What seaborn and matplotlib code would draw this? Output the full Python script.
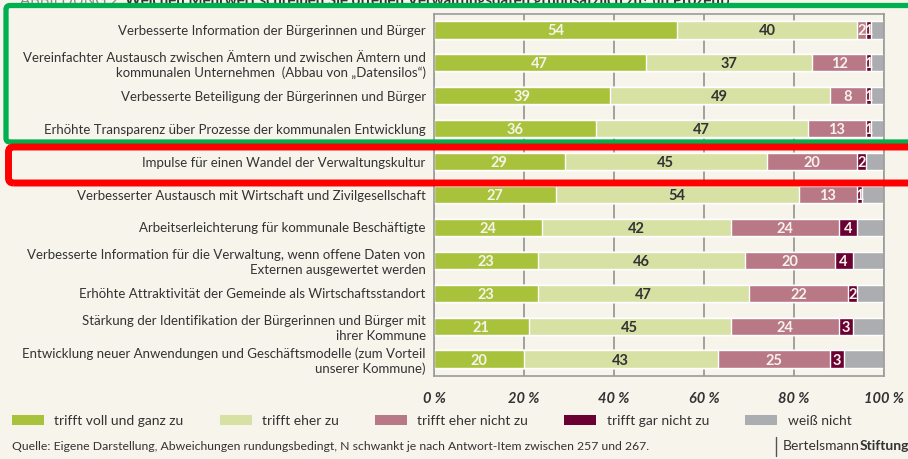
import matplotlib
matplotlib.use('Agg')
import matplotlib.pyplot as plt
import seaborn as sns
import pandas as pd
from matplotlib.patches import Patch, FancyBboxPatch
from matplotlib.lines import Line2D
from matplotlib.transforms import IdentityTransform

# data (in percent)
items = [
    'Verbesserte Information der Bürgerinnen und Bürger',
    'Vereinfachter Austausch zwischen Ämtern und zwischen Ämtern und\nkommunalen Unternehmen  (Abbau von „Datensilos“)',
    'Verbesserte Beteiligung der Bürgerinnen und Bürger',
    'Erhöhte Transparenz über Prozesse der kommunalen Entwicklung',
    'Impulse für einen Wandel der Verwaltungskultur',
    'Verbesserter Austausch mit Wirtschaft und Zivilgesellschaft',
    'Arbeitserleichterung für kommunale Beschäftigte',
    'Verbesserte Information für die Verwaltung, wenn offene Daten von\nExternen ausgewertet werden',
    'Erhöhte Attraktivität der Gemeinde als Wirtschaftsstandort',
    'Stärkung der Identifikation der Bürgerinnen und Bürger mit\nihrer Kommune',
    'Entwicklung neuer Anwendungen und Geschäftsmodelle (zum Vorteil\nunserer Kommune)',
]
voll = [54, 47, 39, 36, 29, 27, 24, 23, 23, 21, 20]
eher = [40, 37, 49, 47, 45, 54, 42, 46, 47, 45, 43]
eher_nicht = [2, 12, 8, 13, 20, 13, 24, 20, 22, 24, 25]
gar_nicht = [1, 1, 1, 1, 2, 1, 4, 4, 2, 3, 3]
weiss_nicht = [3, 3, 3, 3, 4, 5, 6, 7, 6, 7, 9]
answers = ['trifft voll und ganz zu', 'trifft eher zu', 'trifft eher nicht zu',
           'trifft gar nicht zu', 'weiß nicht']
x_ticks = [0, 20, 40, 60, 80, 100]
x_tick_labels = ['0 %', '20 %', '40 %', '60 %', '80 %', '100 %']

colors = ['#a9c23c', '#d7e1a4', '#b87886', '#6b0033', '#abadb0']
label_colors = ['#f6f3ea', '#333333', '#f6f3ea', '#f6f3ea', None]
bg = '#f7f4ec'
text_col = '#333333'

df = pd.DataFrame({'item': items, 'voll': voll, 'eher': eher, 'eher_nicht': eher_nicht,
                   'gar_nicht': gar_nicht, 'weiss_nicht': weiss_nicht})
cols = ['voll', 'eher', 'eher_nicht', 'gar_nicht', 'weiss_nicht']
cum = df[cols].cumsum(axis=1)

sns.set_style('white')
plt.rcParams['font.family'] = ['Lato', 'DejaVu Sans']

W, H = 908, 459
fig = plt.figure(figsize=(W / 100, H / 100), dpi=100, facecolor=bg)
ax = fig.add_axes([434 / W, 1 - 375.5 / H, 450 / W, 362 / H])
ax.set_facecolor(bg)

# stacked bars: draw cumulative totals from the back to the front
for col, color in reversed(list(zip(cols, colors))):
    sns.barplot(x=cum[col], y=df['item'], color=color, orient='h', width=0.52,
                saturation=1, errorbar=None, ax=ax, zorder=2)

for j, col in enumerate(cols):
    if label_colors[j] is None:
        continue
    for i in range(len(df)):
        v = df[col][i]
        ax.text(cum[col][i] - v / 2, i, str(v), ha='center', va='center_baseline',
                fontsize=10.5, fontweight='bold', color=label_colors[j], zorder=3)

ax.set_xlim(0, 100)
ax.set_ylim(len(items) - 0.5, -0.5)
ax.set_xticks(x_ticks)
ax.set_xticklabels(x_tick_labels, fontsize=10.5, fontweight='bold', style='italic', color=text_col)
ax.set_yticks(range(len(items)))
ax.set_yticklabels(items, fontsize=9.5, color=text_col, linespacing=1.25)
ax.set_yticks([i - 0.5 for i in range(len(items) + 1)], minor=True)
ax.tick_params(axis='x', length=0, pad=12)
ax.tick_params(axis='y', which='major', length=0, pad=6)
ax.tick_params(axis='y', which='minor', direction='in', length=8, width=1, color='#a0a0a0')
ax.set_xlabel('')
ax.set_ylabel('')
ax.set_axisbelow(True)
ax.grid(axis='x', color='#9a9a9a', lw=1.3)
ax.grid(axis='y', visible=False)
for s in ax.spines.values():
    s.set_visible(True)
    s.set_color('#9a9a9a')
    s.set_linewidth(1.2)

# legend
handles = [Patch(facecolor=c, edgecolor='none') for c in colors]
fig.legend(handles, answers, loc='center left', bbox_to_anchor=(12 / W, 1 - 421 / H),
           ncol=5, frameon=False, fontsize=10, handlelength=2.3, handleheight=0.75,
           handletextpad=0.75, columnspacing=2.6, borderpad=0, borderaxespad=0,
           labelcolor=text_col)

# footer
fig.text(12 / W, 1 - 446 / H,
         'Quelle: Eigene Darstellung, Abweichungen rundungsbedingt, N schwankt je nach Antwort-Item zwischen 257 und 267.',
         fontsize=8.8, va='center', color=text_col)
fig.add_artist(Line2D([776 / W, 776 / W], [1 - 437 / H, 1 - 456 / H], color='#555555', lw=1))
renderer = fig.canvas.get_renderer()
t1 = fig.text(783 / W, 1 - 446 / H, 'Bertelsmann', fontsize=10, va='center', color=text_col)
x_next = t1.get_window_extent(renderer).x1 / W
fig.text(x_next, 1 - 446 / H, 'Stiftung', fontsize=10, va='center', fontweight='bold', color=text_col)

# title, cut off by the top edge as in the source picture
t2 = fig.text(20 / W, 1 - 5 / H, 'ABBILDUNG 2', fontsize=10.8, va='baseline', color='#8a8a8a')
x_next = t2.get_window_extent(renderer).x1 / W + 6 / W
fig.text(x_next, 1 - 5 / H,
         'Welchen Mehrwert schreiben Sie offenen Verwaltungsdaten grundsätzlich zu? (in Prozent)',
         fontsize=10.8, va='baseline', fontweight='bold', color=text_col)

# highlight boxes
green_box = FancyBboxPatch((6, H - 142), 930, 136.5, boxstyle='round,pad=0,rounding_size=4',
                           transform=IdentityTransform(), facecolor='none', edgecolor='#00b050',
                           lw=3.8, zorder=10)
red_box = FancyBboxPatch((8.5, H - 183), 930, 36, boxstyle='round,pad=0,rounding_size=5',
                         transform=IdentityTransform(), facecolor='none', edgecolor='#ff0000',
                         lw=5, zorder=11)
fig.patches.extend([green_box, red_box])

fig.savefig('out.png', dpi=100, facecolor=bg)
